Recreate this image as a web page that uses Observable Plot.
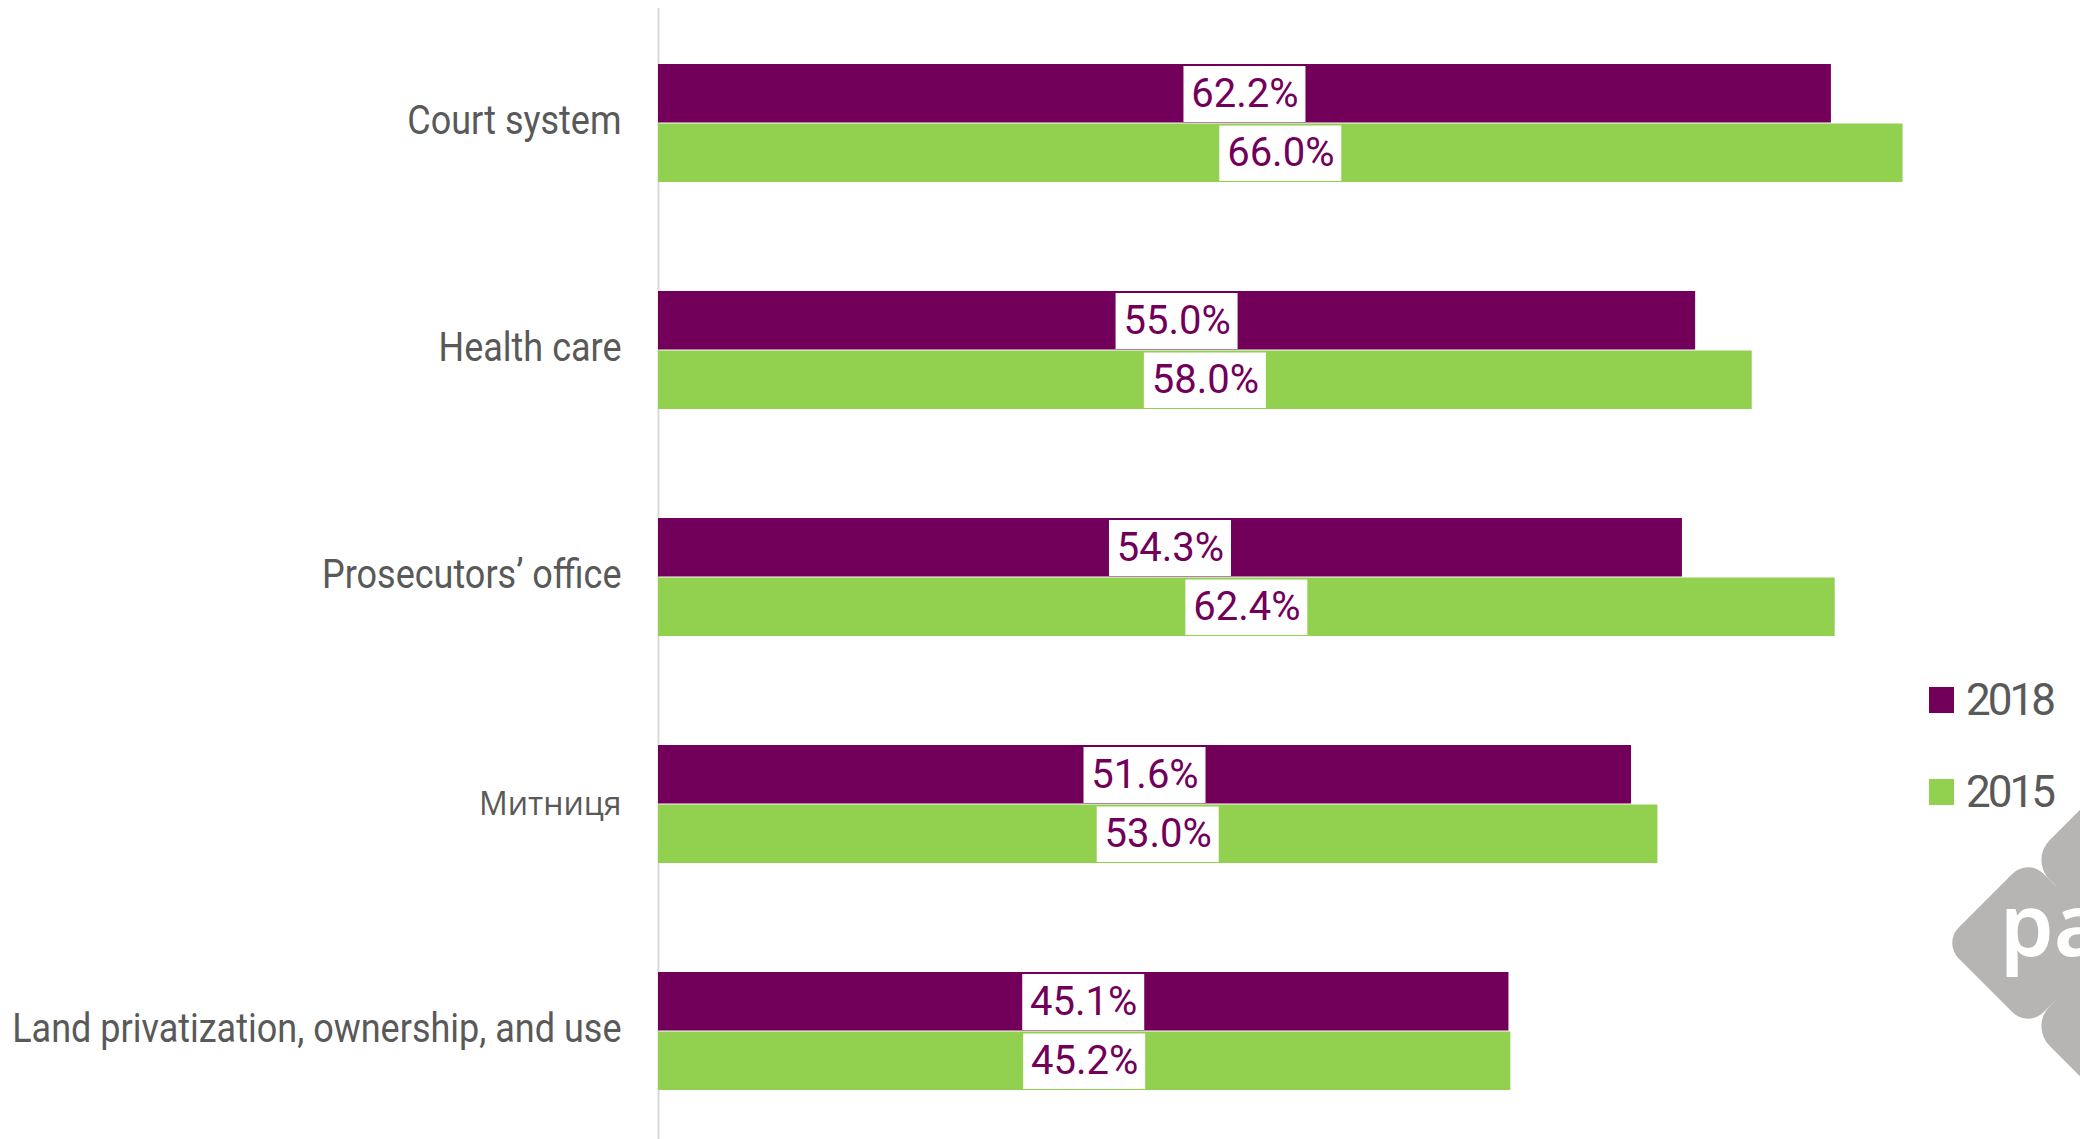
<!DOCTYPE html>
<html>
<head>
<meta charset="utf-8">
<script src="https://cdn.jsdelivr.net/npm/d3@7"></script>
<script src="https://cdn.jsdelivr.net/npm/@observablehq/plot@0.6"></script>
<style>
  body { margin: 0; background: #fff; }
  #wrap { position: relative; width: 2080px; height: 1139px; overflow: hidden; background: #fff; }
  #wrap > svg.plot { position: absolute; left: 0; top: 0; }
  .legend { position: absolute; left: 1929px; font-family: Roboto, sans-serif; font-size: 44px; letter-spacing: -3px; color: #595959; display: flex; align-items: center; }
  .legend .sw { width: 25px; height: 26px; margin-right: 12px; }
  #wm { position: absolute; left: 0; top: 0; }
</style>
</head>
<body>
<div id="wrap">
  <svg id="wm" width="2080" height="1139">
    <g fill="#b7b5b3">
      <rect x="-60" y="-60" width="120" height="120" rx="22" transform="translate(2028,943) rotate(45)"/>
      <rect x="-85" y="-85" width="170" height="170" rx="28" transform="translate(2150,860) rotate(45)"/>
      <rect x="-85" y="-85" width="170" height="170" rx="28" transform="translate(2150,1026) rotate(45)"/>
      <rect x="-106" y="-106" width="212" height="212" rx="30" transform="translate(2150,943) rotate(45)"/>
    </g>
    <text x="2000" y="956" fill="#fff" font-family="Noto Sans, sans-serif" font-weight="600" font-size="86">pa</text>
  </svg>
</div>
<script>
const categories = [
  "Court system",
  "Health care",
  "Prosecutors’ office",
  "Митниця",
  "Land privatization, ownership, and use"
];
const values2018 = [62.2, 55.0, 54.3, 51.6, 45.1];
const values2015 = [66.0, 58.0, 62.4, 53.0, 45.2];
const seriesNames = ["2018", "2015"];

const purple = "#72005A";
const green = "#92D050";
const grey = "#595959";
const half = 59.5;

const rows2018 = categories.map((c, i) => ({category: c, year: seriesNames[0], value: values2018[i]}));
const rows2015 = categories.map((c, i) => ({category: c, year: seriesNames[1], value: values2015[i]}));
const isCyr = s => /[\u0400-\u04FF]/.test(s);
const fmt = v => v.toFixed(1) + "%";
const latinLabels = categories.filter(c => !isCyr(c));

const chart = Plot.plot({
  width: 2080,
  height: 1139,
  marginLeft: 658,
  marginRight: 102,
  marginTop: 8,
  marginBottom: 0,
  x: {domain: [0, 70], axis: null},
  y: {domain: categories, range: [8, 1147], paddingInner: 0.478, paddingOuter: 0.237, axis: null},
  style: {fontFamily: "Roboto, sans-serif", background: "transparent", overflow: "visible"},
  marks: [
    Plot.ruleX([0], {stroke: "#d9d9d9", strokeWidth: 2}),
    Plot.barX(rows2018, {x: "value", y: "category", fill: purple, insetBottom: half}),
    Plot.barX(rows2015, {x: "value", y: "category", fill: green, insetTop: half}),
    Plot.barX(rows2018, {x1: d => d.value / 2, x2: d => d.value / 2, y: "category", fill: "white",
      insetLeft: -61, insetRight: -61, insetTop: 2, insetBottom: half + 0.5}),
    Plot.barX(rows2015, {x1: d => d.value / 2, x2: d => d.value / 2, y: "category", fill: "white",
      insetLeft: -61, insetRight: -61, insetTop: half + 2, insetBottom: 1}),
    Plot.text(rows2018, {x: d => d.value / 2, y: "category", text: d => fmt(d.value), dy: -29,
      fill: purple, fontSize: 40}),
    Plot.text(rows2015, {x: d => d.value / 2, y: "category", text: d => fmt(d.value), dy: 30,
      fill: purple, fontSize: 40}),
    Plot.text(latinLabels, {x: 0, y: d => d, text: d => d, dx: -37, dy: -2,
      textAnchor: "end", fill: grey, fontSize: 40}),
    Plot.text(categories.filter(isCyr), {x: 0, y: d => d, text: d => d, dx: -37,
      textAnchor: "end", fill: grey, fontSize: 32, fontFamily: "Open Sans, sans-serif"})
  ]
});
const wrap = document.getElementById("wrap");
wrap.insertBefore(chart, wrap.firstChild);

// condense the Latin category labels horizontally to mimic the condensed face of the original
chart.querySelectorAll("text").forEach(t => {
  if (!latinLabels.includes(t.textContent)) return;
  const len = t.getComputedTextLength();
  if (len > 0) {
    t.setAttribute("textLength", (len * 0.9).toFixed(1));
    t.setAttribute("lengthAdjust", "spacingAndGlyphs");
  }
});

const legendTops = [674, 766];
const legendColors = [purple, green];
seriesNames.forEach((name, i) => {
  const div = document.createElement("div");
  div.className = "legend";
  div.style.top = legendTops[i] + "px";
  div.innerHTML = `<div class="sw" style="background:${legendColors[i]}"></div><span>${name}</span>`;
  wrap.appendChild(div);
});
</script>
</body>
</html>
